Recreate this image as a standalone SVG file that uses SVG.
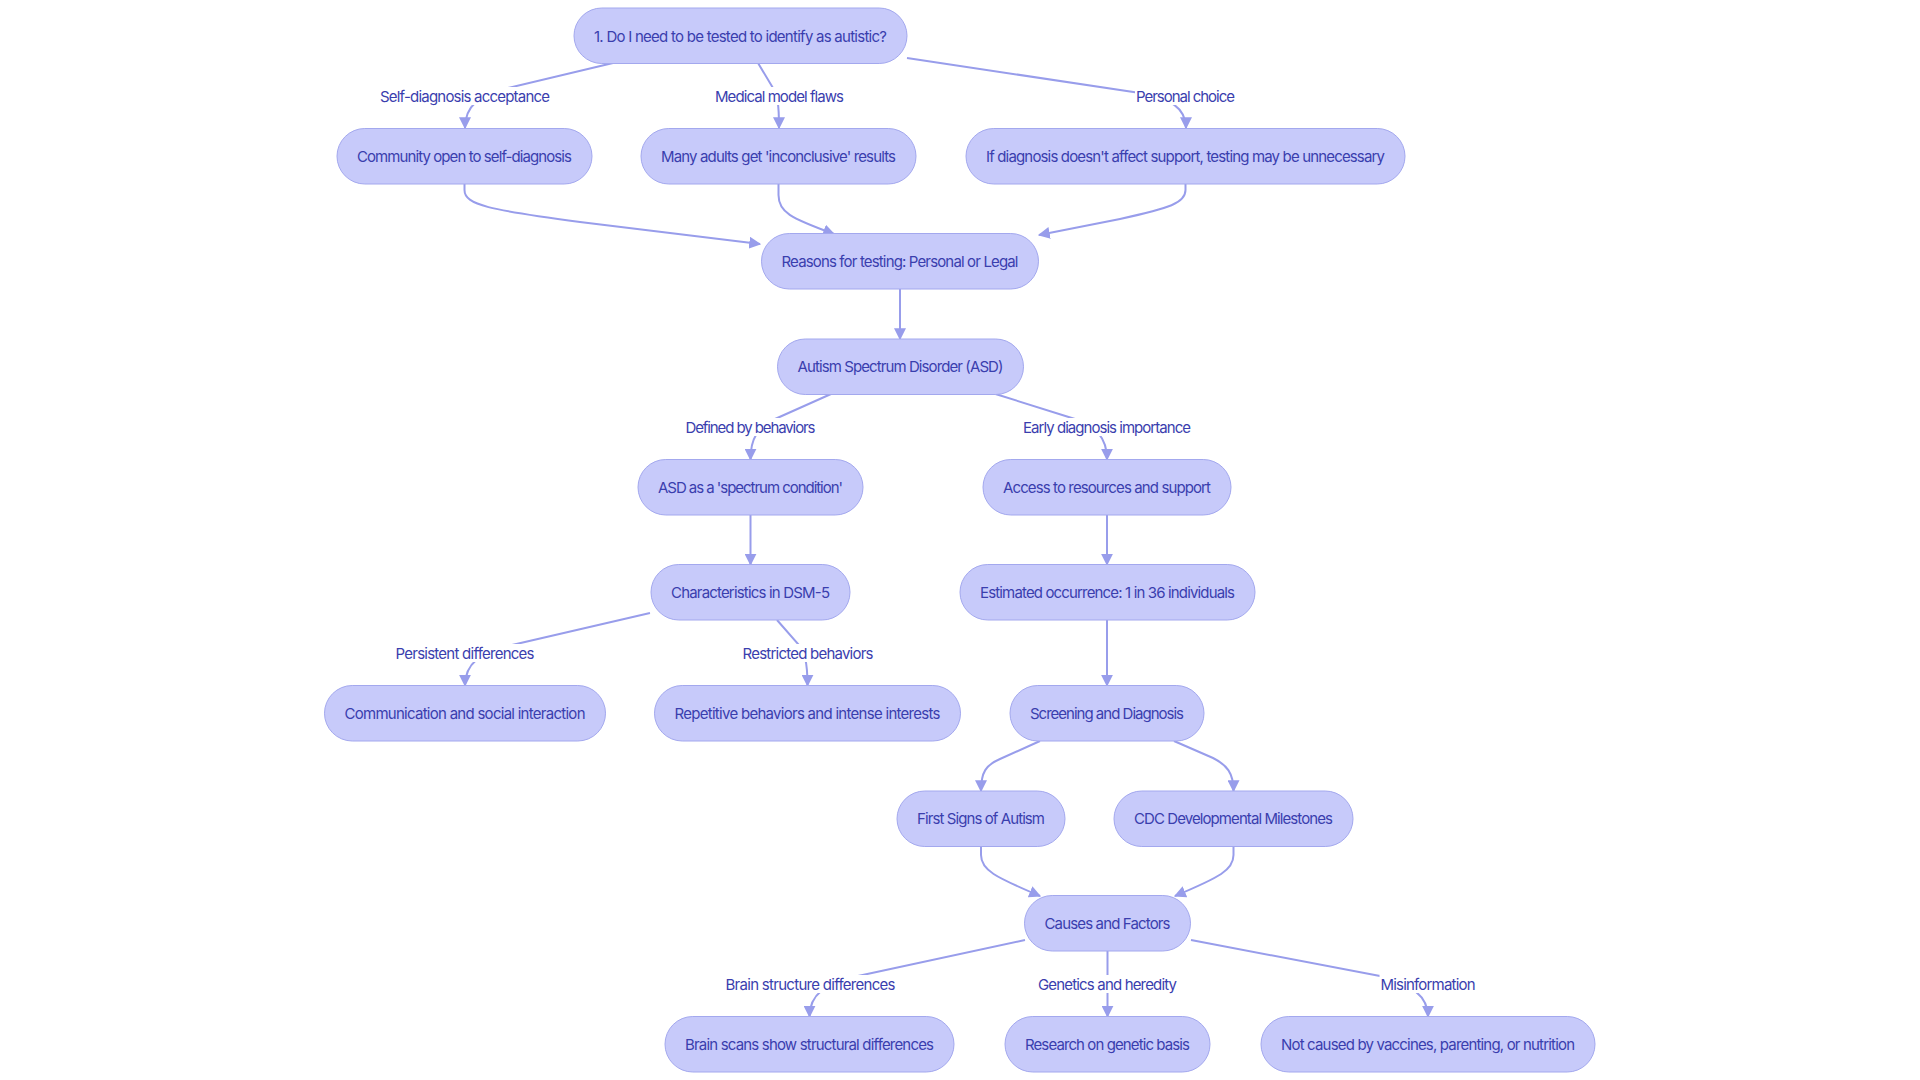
<svg xmlns="http://www.w3.org/2000/svg" width="1920" height="1080" viewBox="0 0 1920 1080">
<style>
.node rect{fill:#c7cafa;stroke:#a3a8ee;stroke-width:1}
text{font-family:Inter,"Liberation Sans",sans-serif;font-size:15px;fill:#3a3eae;text-anchor:middle}
.edges path{fill:none;stroke:#989deb;stroke-width:2}
.lbl rect{fill:#ffffff}
</style>
<defs>
<marker id="arr" viewBox="0 0 10 10" refX="9" refY="5" markerWidth="12" markerHeight="12" markerUnits="userSpaceOnUse" orient="auto">
<path d="M0,0 L10,5 L0,10 z" fill="#989deb"/>
</marker>
</defs>
<rect width="1920" height="1080" fill="#ffffff"/>
<g class="edges">
<path d="M613,63 L508,88 C478,96 465,106 465,128" marker-end="url(#arr)"/>
<path d="M758,63 L773,88 C777,95 779,101 779,128" marker-end="url(#arr)"/>
<path d="M907,58 L1140,93 C1170,98 1186,108 1186,128" marker-end="url(#arr)"/>
<path d="M464.5,184 L464.5,190 C464.5,205 490,210 580,222 L760,244" marker-end="url(#arr)"/>
<path d="M778.5,184 L778.5,195 C778.5,212 790,218 834,234" marker-end="url(#arr)"/>
<path d="M1185.5,184 L1185.5,190 C1185.5,203 1170,208 1120,219 L1039,235" marker-end="url(#arr)"/>
<path d="M900,289 L900,339" marker-end="url(#arr)"/>
<path d="M831,394 L775,419 C758,427 750.5,438 750.5,459.5" marker-end="url(#arr)"/>
<path d="M995.5,394 L1075,419 C1095,426 1107,437 1107,459.5" marker-end="url(#arr)"/>
<path d="M750.5,515 L750.5,564.5" marker-end="url(#arr)"/>
<path d="M1107,515 L1107,564.5" marker-end="url(#arr)"/>
<path d="M650,613 L512,645 C480,652 465,664 465,685.5" marker-end="url(#arr)"/>
<path d="M777,620 L799,645 C804,652 807.5,660 807.5,685.5" marker-end="url(#arr)"/>
<path d="M1107,620 L1107,685.5" marker-end="url(#arr)"/>
<path d="M1040,741 L1000,759 C986,765 981,772 981,791" marker-end="url(#arr)"/>
<path d="M1174,741 L1213,758 C1227,765 1233.5,773 1233.5,791" marker-end="url(#arr)"/>
<path d="M981,846 L981,855 C981,870 995,877 1040,896" marker-end="url(#arr)"/>
<path d="M1233.5,846 L1233.5,855 C1233.5,870 1220,877 1175,896" marker-end="url(#arr)"/>
<path d="M1025,940 L858,976 C825,983 809.5,995 809.5,1016.5" marker-end="url(#arr)"/>
<path d="M1107.5,950.5 L1107.5,1016.5" marker-end="url(#arr)"/>
<path d="M1191,940 L1380,976 C1410,983 1428,995 1428,1016.5" marker-end="url(#arr)"/>
</g>
<g class="labels">
<g class="lbl"><rect x="379" y="87" width="172" height="18"/><text x="465" y="101.5" textLength="170" lengthAdjust="spacing">Self-diagnosis acceptance</text></g>
<g class="lbl"><rect x="714" y="87" width="131" height="18"/><text x="779.5" y="101.5" textLength="129" lengthAdjust="spacing">Medical model flaws</text></g>
<g class="lbl"><rect x="1135" y="87" width="101" height="18"/><text x="1185.5" y="101.5" textLength="99" lengthAdjust="spacing">Personal choice</text></g>
<g class="lbl"><rect x="684.5" y="418" width="132" height="18"/><text x="750.5" y="432.5" textLength="130" lengthAdjust="spacing">Defined by behaviors</text></g>
<g class="lbl"><rect x="1022" y="418" width="170" height="18"/><text x="1107" y="432.5" textLength="168" lengthAdjust="spacing">Early diagnosis importance</text></g>
<g class="lbl"><rect x="394.5" y="644" width="141" height="18"/><text x="465" y="658.5" textLength="139" lengthAdjust="spacing">Persistent differences</text></g>
<g class="lbl"><rect x="741.5" y="644" width="133" height="18"/><text x="808" y="658.5" textLength="131" lengthAdjust="spacing">Restricted behaviors</text></g>
<g class="lbl"><rect x="724.5" y="975" width="172" height="18"/><text x="810.5" y="989.5" textLength="170" lengthAdjust="spacing">Brain structure differences</text></g>
<g class="lbl"><rect x="1037" y="975" width="141" height="18"/><text x="1107.5" y="989.5" textLength="139" lengthAdjust="spacing">Genetics and heredity</text></g>
<g class="lbl"><rect x="1379.5" y="975" width="97" height="18"/><text x="1428" y="989.5" textLength="95" lengthAdjust="spacing">Misinformation</text></g>
</g>
<g id="n1" class="node"><rect x="574" y="8" width="333" height="55.5" rx="27.75"/><text x="740.5" y="41.5" textLength="293" lengthAdjust="spacing">1. Do I need to be tested to identify as autistic?</text></g>
<g id="n2" class="node"><rect x="337" y="128.5" width="255" height="55.5" rx="27.75"/><text x="464.5" y="161.5" textLength="215" lengthAdjust="spacing">Community open to self-diagnosis</text></g>
<g id="n3" class="node"><rect x="641" y="128.5" width="275" height="55.5" rx="27.75"/><text x="778.5" y="161.5" textLength="235" lengthAdjust="spacing">Many adults get 'inconclusive' results</text></g>
<g id="n4" class="node"><rect x="966" y="128.5" width="439" height="55.5" rx="27.75"/><text x="1185.5" y="161.5" textLength="399" lengthAdjust="spacing">If diagnosis doesn't affect support, testing may be unnecessary</text></g>
<g id="n5" class="node"><rect x="761.5" y="233.5" width="277" height="55.5" rx="27.75"/><text x="900" y="266.5" textLength="237" lengthAdjust="spacing">Reasons for testing: Personal or Legal</text></g>
<g id="n6" class="node"><rect x="777.5" y="339" width="246" height="55.5" rx="27.75"/><text x="900.5" y="372" textLength="206" lengthAdjust="spacing">Autism Spectrum Disorder (ASD)</text></g>
<g id="n7" class="node"><rect x="638" y="459.5" width="225" height="55.5" rx="27.75"/><text x="750.5" y="492.5" textLength="185" lengthAdjust="spacing">ASD as a 'spectrum condition'</text></g>
<g id="n8" class="node"><rect x="983" y="459.5" width="248" height="55.5" rx="27.75"/><text x="1107" y="492.5" textLength="208" lengthAdjust="spacing">Access to resources and support</text></g>
<g id="n9" class="node"><rect x="651" y="564.5" width="199" height="55.5" rx="27.75"/><text x="750.5" y="597.5" textLength="159" lengthAdjust="spacing">Characteristics in DSM-5</text></g>
<g id="n10" class="node"><rect x="960" y="564.5" width="295" height="55.5" rx="27.75"/><text x="1107.5" y="597.5" textLength="255" lengthAdjust="spacing">Estimated occurrence: 1 in 36 individuals</text></g>
<g id="n11" class="node"><rect x="324.5" y="685.5" width="281" height="55.5" rx="27.75"/><text x="465" y="718.5" textLength="241" lengthAdjust="spacing">Communication and social interaction</text></g>
<g id="n12" class="node"><rect x="654.5" y="685.5" width="306" height="55.5" rx="27.75"/><text x="807.5" y="718.5" textLength="266" lengthAdjust="spacing">Repetitive behaviors and intense interests</text></g>
<g id="n13" class="node"><rect x="1010" y="685.5" width="194" height="55.5" rx="27.75"/><text x="1107" y="718.5" textLength="154" lengthAdjust="spacing">Screening and Diagnosis</text></g>
<g id="n14" class="node"><rect x="897" y="791" width="168" height="55.5" rx="27.75"/><text x="981" y="824" textLength="128" lengthAdjust="spacing">First Signs of Autism</text></g>
<g id="n15" class="node"><rect x="1114" y="791" width="239" height="55.5" rx="27.75"/><text x="1233.5" y="824" textLength="199" lengthAdjust="spacing">CDC Developmental Milestones</text></g>
<g id="n16" class="node"><rect x="1024.5" y="895.5" width="166" height="55.5" rx="27.75"/><text x="1107.5" y="928.5" textLength="126" lengthAdjust="spacing">Causes and Factors</text></g>
<g id="n17" class="node"><rect x="665" y="1016.5" width="289" height="55.5" rx="27.75"/><text x="809.5" y="1049.5" textLength="249" lengthAdjust="spacing">Brain scans show structural differences</text></g>
<g id="n18" class="node"><rect x="1005" y="1016.5" width="205" height="55.5" rx="27.75"/><text x="1107.5" y="1049.5" textLength="165" lengthAdjust="spacing">Research on genetic basis</text></g>
<g id="n19" class="node"><rect x="1261" y="1016.5" width="334" height="55.5" rx="27.75"/><text x="1428" y="1049.5" textLength="294" lengthAdjust="spacing">Not caused by vaccines, parenting, or nutrition</text></g>
</svg>
